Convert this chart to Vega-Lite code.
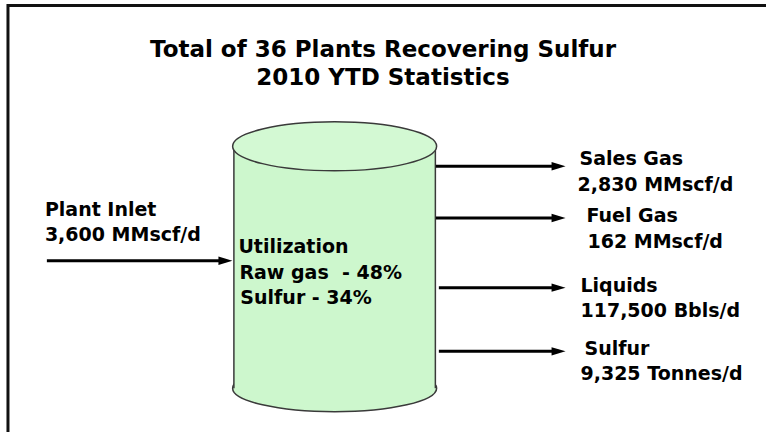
{
  "$schema": "https://vega.github.io/schema/vega-lite/v6.json",
  "width": 768,
  "height": 434,
  "autosize": {"type": "fit", "contains": "padding"},
  "padding": 0,
  "background": "white",
  "config": {"view": {"stroke": null}},
  "datasets": {
    "frame": [
      {"side": "top", "x": 7, "x2": 768, "y": 5.5, "y2": 5.5},
      {"side": "left", "x": 8, "x2": 8, "y": 4, "y2": 434}
    ],
    "body": [{"part": "body", "x": 234.5, "x2": 436.5, "y": 147, "y2": 390}],
    "sides": [
      {"side": "left", "x": 234.5, "y": 147, "y2": 390},
      {"side": "right", "x": 436.5, "y": 147, "y2": 390}
    ],
    "ends": [
      {"end": "bottom", "x": 335.5, "y": 390},
      {"end": "top", "x": 335.5, "y": 147}
    ],
    "arrows": [
      {"flow": "Plant Inlet", "x": 47, "x2": 226, "y": 262, "tip": 226},
      {"flow": "Sales Gas", "x": 437, "x2": 560, "y": 167, "tip": 560},
      {"flow": "Fuel Gas", "x": 437, "x2": 560, "y": 219, "tip": 560},
      {"flow": "Liquids", "x": 440, "x2": 560, "y": 289, "tip": 560},
      {"flow": "Sulfur", "x": 440, "x2": 560, "y": 353, "tip": 560}
    ],
    "titles": [
      {"label": "Total of 36 Plants Recovering Sulfur", "x": 384, "y": 57},
      {"label": "2010 YTD Statistics", "x": 384, "y": 85}
    ],
    "labels": [
      {"label": "Plant Inlet", "x": 45, "y": 217},
      {"label": "3,600 MMscf/d", "x": 45, "y": 242},
      {"label": "Sales Gas", "x": 581, "y": 166},
      {"label": "2,830 MMscf/d", "x": 579, "y": 192},
      {"label": "Fuel Gas", "x": 588, "y": 223},
      {"label": "162 MMscf/d", "x": 589, "y": 249},
      {"label": "Liquids", "x": 582, "y": 293},
      {"label": "117,500 Bbls/d", "x": 582, "y": 318},
      {"label": "Sulfur", "x": 586, "y": 357},
      {"label": "9,325 Tonnes/d", "x": 582, "y": 382},
      {"label": "Utilization", "x": 239, "y": 254},
      {"label": "Raw gas \u00a0- 48%", "x": 240, "y": 280},
      {"label": "Sulfur - 34%", "x": 241, "y": 305}
    ]
  },
  "layer": [
    {
      "data": {"name": "frame"},
      "mark": {"type": "rule", "color": "#111111", "strokeWidth": 3},
      "encoding": {
        "x": {"field": "x", "type": "quantitative", "scale": {"domain": [0, 768], "nice": false, "zero": false}, "axis": null},
        "x2": {"field": "x2"},
        "y": {"field": "y", "type": "quantitative", "scale": {"domain": [0, 434], "nice": false, "zero": false, "reverse": true}, "axis": null},
        "y2": {"field": "y2"}
      }
    },
    {
      "data": {"name": "ends"},
      "transform": [{"filter": "datum.end == 'bottom'"}],
      "mark": {"type": "point", "filled": true, "fill": "#cdf7cd", "stroke": "#3a3a3a", "strokeWidth": 1.5, "opacity": 1, "size": 41616,
        "shape": "M -1 0 C -1 0.1271 -0.5523 0.23 0 0.23 C 0.5523 0.23 1 0.1271 1 0 C 1 -0.1271 0.5523 -0.23 0 -0.23 C -0.5523 -0.23 -1 -0.1271 -1 0 Z"},
      "encoding": {
        "x": {"field": "x", "type": "quantitative", "scale": {"domain": [0, 768], "nice": false, "zero": false}, "axis": null},
        "y": {"field": "y", "type": "quantitative", "scale": {"domain": [0, 434], "nice": false, "zero": false, "reverse": true}, "axis": null}
      }
    },
    {
      "data": {"name": "body"},
      "mark": {"type": "rect", "color": "#cdf7cd", "opacity": 1},
      "encoding": {
        "x": {"field": "x", "type": "quantitative", "scale": {"domain": [0, 768], "nice": false, "zero": false}, "axis": null},
        "x2": {"field": "x2"},
        "y": {"field": "y", "type": "quantitative", "scale": {"domain": [0, 434], "nice": false, "zero": false, "reverse": true}, "axis": null},
        "y2": {"field": "y2"}
      }
    },
    {
      "data": {"name": "sides"},
      "mark": {"type": "rule", "color": "#3a3a3a", "strokeWidth": 1.5},
      "encoding": {
        "x": {"field": "x", "type": "quantitative", "scale": {"domain": [0, 768], "nice": false, "zero": false}, "axis": null},
        "y": {"field": "y", "type": "quantitative", "scale": {"domain": [0, 434], "nice": false, "zero": false, "reverse": true}, "axis": null},
        "y2": {"field": "y2"}
      }
    },
    {
      "data": {"name": "ends"},
      "transform": [{"filter": "datum.end == 'top'"}],
      "mark": {"type": "point", "filled": true, "fill": "#d3f9d3", "stroke": "#3a3a3a", "strokeWidth": 1.5, "opacity": 1, "size": 41616,
        "shape": "M -1 0 C -1 0.1326 -0.5523 0.24 0 0.24 C 0.5523 0.24 1 0.1326 1 0 C 1 -0.1326 0.5523 -0.24 0 -0.24 C -0.5523 -0.24 -1 -0.1326 -1 0 Z"},
      "encoding": {
        "x": {"field": "x", "type": "quantitative", "scale": {"domain": [0, 768], "nice": false, "zero": false}, "axis": null},
        "y": {"field": "y", "type": "quantitative", "scale": {"domain": [0, 434], "nice": false, "zero": false, "reverse": true}, "axis": null}
      }
    },
    {
      "data": {"name": "arrows"},
      "mark": {"type": "rule", "color": "#000000", "strokeWidth": 3},
      "encoding": {
        "x": {"field": "x", "type": "quantitative", "scale": {"domain": [0, 768], "nice": false, "zero": false}, "axis": null},
        "x2": {"field": "x2"},
        "y": {"field": "y", "type": "quantitative", "scale": {"domain": [0, 434], "nice": false, "zero": false, "reverse": true}, "axis": null}
      }
    },
    {
      "data": {"name": "arrows"},
      "mark": {"type": "point", "filled": true, "color": "#000000", "opacity": 1, "size": 196, "strokeWidth": 0,
        "shape": "M -1 -0.6 L 1 0 L -1 0.6 Z"},
      "encoding": {
        "x": {"field": "tip", "type": "quantitative", "scale": {"domain": [0, 768], "nice": false, "zero": false}, "axis": null},
        "y": {"field": "y", "type": "quantitative", "scale": {"domain": [0, 434], "nice": false, "zero": false, "reverse": true}, "axis": null}
      }
    },
    {
      "data": {"name": "titles"},
      "mark": {"type": "text", "font": "DejaVu Sans", "fontWeight": "bold", "fontSize": 23, "align": "center", "baseline": "alphabetic", "color": "#000000"},
      "encoding": {
        "x": {"field": "x", "type": "quantitative", "scale": {"domain": [0, 768], "nice": false, "zero": false}, "axis": null},
        "y": {"field": "y", "type": "quantitative", "scale": {"domain": [0, 434], "nice": false, "zero": false, "reverse": true}, "axis": null},
        "text": {"field": "label"}
      }
    },
    {
      "data": {"name": "labels"},
      "mark": {"type": "text", "font": "DejaVu Sans", "fontWeight": "bold", "fontSize": 19, "align": "left", "baseline": "alphabetic", "color": "#000000"},
      "encoding": {
        "x": {"field": "x", "type": "quantitative", "scale": {"domain": [0, 768], "nice": false, "zero": false}, "axis": null},
        "y": {"field": "y", "type": "quantitative", "scale": {"domain": [0, 434], "nice": false, "zero": false, "reverse": true}, "axis": null},
        "text": {"field": "label"}
      }
    }
  ]
}
